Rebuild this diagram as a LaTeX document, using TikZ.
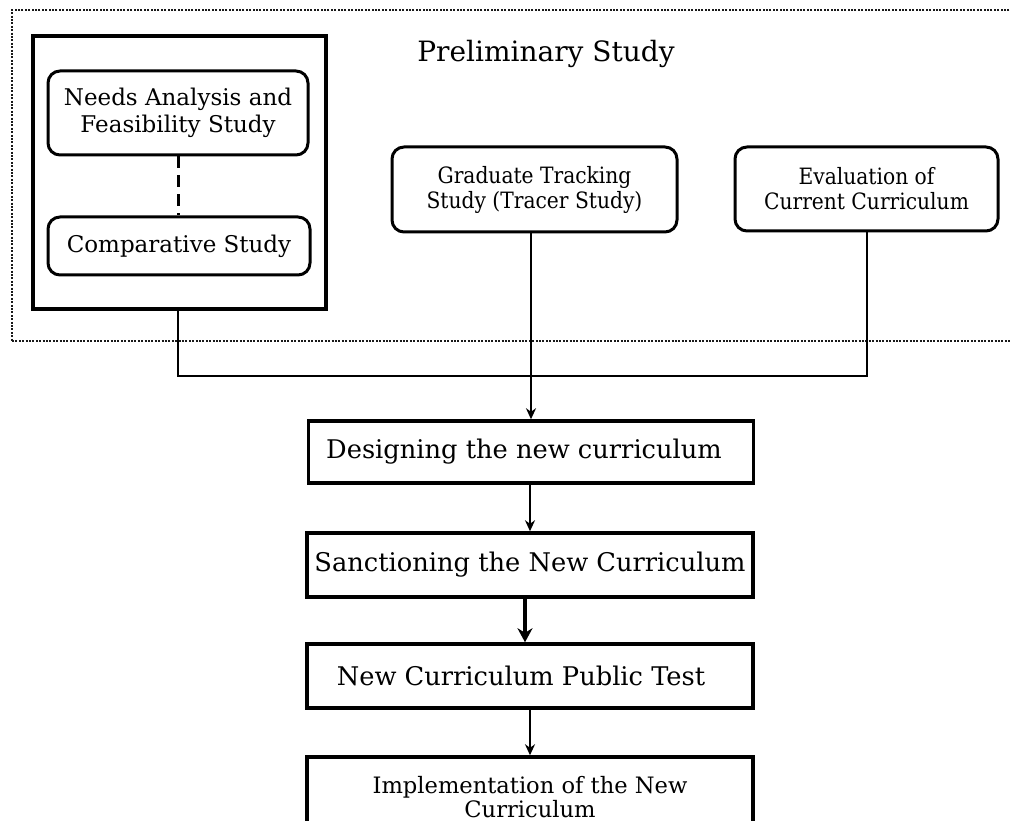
\documentclass[tikz,border=0pt]{standalone}
\usepackage{fontspec}
\setmainfont{DejaVu Serif}
\newfontfamily\condfont{DejaVu Serif Condensed}
\usetikzlibrary{arrows.meta}

\begin{document}
\begin{tikzpicture}[
    x=1pt, y=-1pt,
    dotframe/.style={draw=black!90, line width=2.2pt, dash pattern=on 2pt off 1.4pt, minimum width=1003pt, minimum height=331pt},
    groupbox/.style={rectangle, draw, line width=3.5pt, minimum width=293pt, minimum height=273pt},
    studybox/.style={rectangle, draw, line width=3pt, rounded corners=12pt, align=center, inner sep=0pt,
        font=\fontsize{23}{27}\selectfont},
    trackbox/.style={studybox, font=\condfont\fontsize{22.5}{25}\selectfont},
    stepbox/.style={rectangle, draw, line width=3.5pt, minimum width=446pt, minimum height=64pt, align=center, inner sep=0pt,
        font=\fontsize{25.7}{30}\selectfont},
    link/.style={line width=2pt},
    arr/.style={line width=2pt, -{Stealth[length=11pt, width=10pt]}},
    bigarr/.style={line width=3.8pt, -{Stealth[length=14pt, width=15pt]}}
]
\useasboundingbox (0,0) rectangle (1010,821);

% preliminary study area
\node[dotframe] (prelim) at (513.5,175.5) {};
\node[font=\fontsize{28}{32}\selectfont] (title) at (546,54) {Preliminary Study};

\node[groupbox] (group) at (179.5,172.5) {};
\node[studybox, minimum width=260pt, minimum height=84pt] (needs) at (178,113)
    {Needs Analysis and\\Feasibility Study};
\node[studybox, minimum width=262pt, minimum height=58pt] (comp) at (179,246)
    {Comparative Study};
\node[trackbox, minimum width=285pt, minimum height=85pt] (grad) at (534.5,189.5)
    {Graduate Tracking\\Study (Tracer Study)};
\node[trackbox, minimum width=263pt, minimum height=84pt] (eval) at (866.5,189)
    {Evaluation of\\Current Curriculum};

% steps
\node[stepbox, minimum width=445pt, minimum height=62pt] (design) at (531,452)
    {Designing the new curriculum\hspace{14pt}};
\node[stepbox] (sanction) at (530,565) {Sanctioning the New Curriculum};
\node[stepbox] (ptest) at (530,676) {New Curriculum Public Test\hspace{18pt}};
\node[stepbox, minimum height=80pt, font=\fontsize{22.6}{27}\selectfont] (impl) at (530,797)
    {\raisebox{-3pt}{Implementation of the New}\\Curriculum};

\coordinate (join) at (531,376);

% connectors
\draw[line width=3pt, dash pattern=on 12pt off 7pt] (needs.south) -- (needs.south |- comp.north);
\draw[link] (group.south -| needs.south) |- (join) -| (eval.south);
\draw[arr] (grad.south -| design.north) -- (design.north);
\draw[arr] (design.south -| sanction.north) -- (sanction.north);
\draw[bigarr] ([xshift=-5pt]sanction.south) -- ([xshift=-5pt]ptest.north);
\draw[arr] (ptest.south) -- (impl.north);

\end{tikzpicture}
\end{document}
